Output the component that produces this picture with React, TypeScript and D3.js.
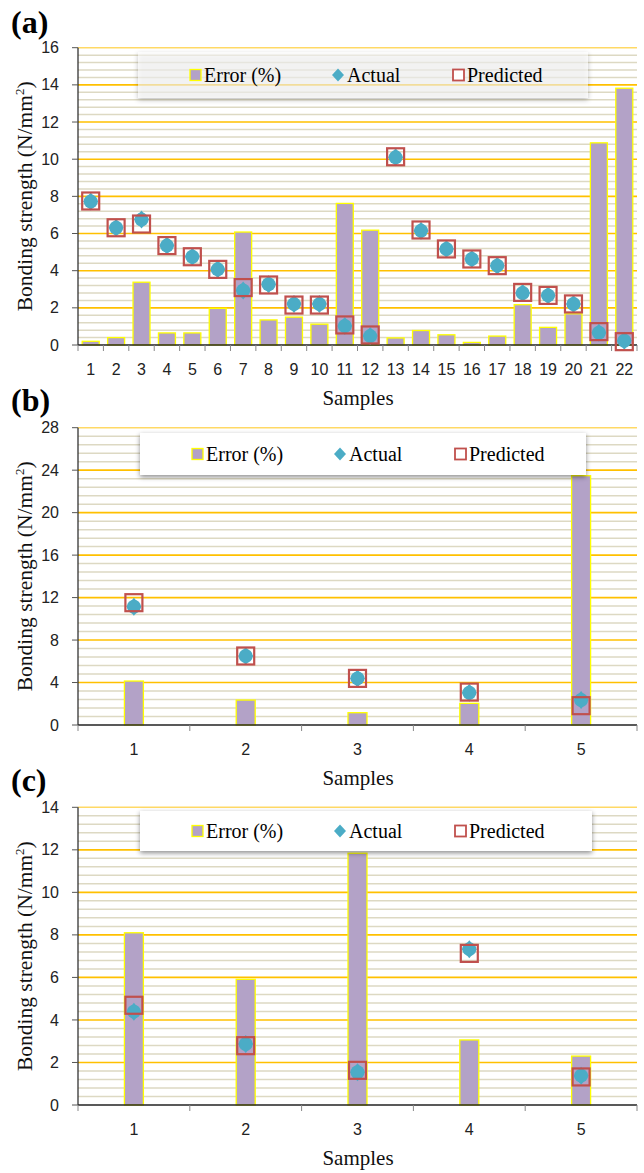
import React from "react";
import * as d3 from "d3";

// ---------- data ----------
const samplesA = ["1","2","3","4","5","6","7","8","9","10","11","12","13","14","15","16","17","18","19","20","21","22"];
const errorA = [0.2, 0.4, 3.38, 0.65, 0.65, 1.97, 6.08, 1.35, 1.5, 1.12, 7.62, 6.18, 0.38, 0.78, 0.55, 0.14, 0.48, 2.17, 0.95, 1.68, 10.88, 13.82];
const actualA = [7.72, 6.31, 6.75, 5.35, 4.75, 4.07, 2.93, 3.27, 2.2, 2.2, 1.02, 0.48, 10.1, 6.15, 5.17, 4.63, 4.27, 2.8, 2.67, 2.21, 0.66, 0.23];
const predictedA = [7.75, 6.31, 6.51, 5.35, 4.75, 4.07, 3.09, 3.23, 2.15, 2.15, 1.08, 0.54, 10.13, 6.19, 5.17, 4.63, 4.27, 2.83, 2.67, 2.21, 0.72, 0.18];
const yTicksA = [0, 2, 4, 6, 8, 10, 12, 14, 16];

const samplesB = ["1", "2", "3", "4", "5"];
const errorB = [4.14, 2.35, 1.16, 2.04, 23.48];
const actualB = [11.14, 6.5, 4.39, 3.04, 2.35];
const predictedB = [11.52, 6.5, 4.39, 3.1, 1.82];
const yTicksB = [0, 4, 8, 12, 16, 20, 24, 28];

const samplesC = ["1", "2", "3", "4", "5"];
const errorC = [8.1, 5.91, 11.84, 3.06, 2.3];
const actualC = [4.39, 2.87, 1.54, 7.33, 1.38];
const predictedC = [4.69, 2.79, 1.63, 7.13, 1.32];
const yTicksC = [0, 2, 4, 6, 8, 10, 12, 14];

const legendLabels = ["Error (%)", "Actual", "Predicted"];

// ---------- style ----------
const BAR_FILL = "#b3a2c7";
const BAR_STROKE = "#ffff00";
const TEAL = "#4bacc6";
const RED = "#c0504d";
const MAJOR = "#ffc000";
const MINOR = "#ddd9c3";
const SERIF = "'Liberation Serif', 'Times New Roman', serif";
const SANS = "'Liberation Sans Narrow', 'Liberation Sans', Arial, sans-serif";

type PanelSpec = {
  id: string;
  label: string;
  labelY: number;
  samples: string[];
  error: number[];
  actual: number[];
  predicted: number[];
  yTicks: number[];
  minorStep: number;
  top: number;
  bottom: number;
  barW: number;
  legend: { x0: number; x1: number; y0: number; y1: number; translucent: boolean };
};

const LEFT = 78;
const RIGHT = 637;

const panels: PanelSpec[] = [
  {
    id: "a", label: "(a)", labelY: 33,
    samples: samplesA, error: errorA, actual: actualA, predicted: predictedA,
    yTicks: yTicksA, minorStep: 0.4, top: 47.7, bottom: 345, barW: 17,
    legend: { x0: 138, x1: 588, y0: 52, y1: 98, translucent: true },
  },
  {
    id: "b", label: "(b)", labelY: 411,
    samples: samplesB, error: errorB, actual: actualB, predicted: predictedB,
    yTicks: yTicksB, minorStep: 0.8, top: 427.7, bottom: 725, barW: 19,
    legend: { x0: 140, x1: 586, y0: 433, y1: 475, translucent: false },
  },
  {
    id: "c", label: "(c)", labelY: 791,
    samples: samplesC, error: errorC, actual: actualC, predicted: predictedC,
    yTicks: yTicksC, minorStep: 0.4, top: 807.3, bottom: 1105, barW: 19,
    legend: { x0: 140, x1: 592, y0: 811, y1: 851, translucent: false },
  },
];

function diamondPath(cx: number, cy: number, hw: number, hh: number) {
  return `M${cx},${cy - hh}L${cx + hw},${cy}L${cx},${cy + hh}L${cx - hw},${cy}Z`;
}

function Panel({ p }: { p: PanelSpec }) {
  const yMax = p.yTicks[p.yTicks.length - 1];
  const x = d3.scaleBand<string>().domain(p.samples).range([LEFT, RIGHT]).padding(0);
  const y = d3.scaleLinear().domain([0, yMax]).range([p.bottom, p.top]);
  const majorStep = p.yTicks[1] - p.yTicks[0];
  const minors = d3
    .range(0, yMax + 1e-9, p.minorStep)
    .filter((v) => Math.abs(v / majorStep - Math.round(v / majorStep)) > 1e-6);
  const bw = x.bandwidth();
  const midY = (p.top + p.bottom) / 2;
  const lg = p.legend;
  const lcy = (lg.y0 + lg.y1) / 2;

  return (
    <g>
      {/* panel label */}
      <text x={11} y={p.labelY} fontFamily={SERIF} fontWeight="bold" fontSize={32} fill="#000">
        {p.label}
      </text>

      {/* minor gridlines */}
      {minors.map((v, i) => (
        <line key={"mn" + i} x1={LEFT} x2={RIGHT} y1={y(v)} y2={y(v)} stroke={MINOR} strokeWidth={1.5} />
      ))}
      {/* major gridlines */}
      {p.yTicks.filter((v) => v > 0).map((v) => (
        <line key={"mj" + v} x1={LEFT} x2={RIGHT} y1={y(v)} y2={y(v)} stroke={MAJOR} strokeWidth={1.6} opacity={v === yMax ? 0.6 : 1} />
      ))}

      {/* bars */}
      {p.error.map((v, i) => {
        const cx = (x(p.samples[i]) as number) + bw / 2;
        return (
          <rect
            key={"bar" + i}
            x={cx - p.barW / 2}
            y={y(v)}
            width={p.barW}
            height={y(0) - y(v)}
            fill={BAR_FILL}
            stroke={BAR_STROKE}
            strokeWidth={1.3}
          />
        );
      })}

      {/* axes */}
      <line x1={LEFT} x2={LEFT} y1={p.top} y2={p.bottom} stroke="#222" strokeWidth={1.2} />
      <line x1={LEFT} x2={RIGHT} y1={p.bottom} y2={p.bottom} stroke="#222" strokeWidth={1.5} />
      {p.yTicks.map((v) => (
        <g key={"yt" + v}>
          <line x1={LEFT - 6} x2={LEFT} y1={y(v)} y2={y(v)} stroke="#555" strokeWidth={1} />
          <text x={59} y={y(v)} dy="0.35em" textAnchor="end" fontFamily={SANS} fontSize={16} fill="#222">
            {v}
          </text>
        </g>
      ))}
      {p.samples.map((s, i) => (
        <line
          key={"xt" + i}
          x1={(x(s) as number)}
          x2={(x(s) as number)}
          y1={p.bottom}
          y2={p.bottom + 6}
          stroke="#888"
          strokeWidth={1}
        />
      ))}
      <line x1={RIGHT} x2={RIGHT} y1={p.bottom} y2={p.bottom + 6} stroke="#888" strokeWidth={1} />
      {p.samples.map((s, i) => (
        <text
          key={"xl" + i}
          x={(x(s) as number) + bw / 2}
          y={p.bottom + 30}
          textAnchor="middle"
          fontFamily={SANS}
          fontSize={16}
          fill="#222"
        >
          {s}
        </text>
      ))}

      {/* axis titles */}
      <text x={358} y={p.bottom + 60} textAnchor="middle" fontFamily={SERIF} fontSize={21} fill="#111">
        Samples
      </text>
      <text
        transform={`translate(32,${midY}) rotate(-90)`}
        textAnchor="middle"
        fontFamily={SERIF}
        fontSize={21.5}
        fill="#111"
      >
        Bonding strength (N/mm<tspan dy={-8} fontSize={13}>2</tspan>
        <tspan dy={8}>)</tspan>
      </text>

      {/* markers */}
      {p.actual.map((v, i) => {
        const cx = (x(p.samples[i]) as number) + bw / 2;
        return (
          <g key={"act" + i}>
            <path d={diamondPath(cx, y(v), 7.5, 9)} fill={TEAL} />
            <circle cx={cx} cy={y(v)} r={7} fill={TEAL} />
          </g>
        );
      })}
      {p.predicted.map((v, i) => {
        const cx = (x(p.samples[i]) as number) + bw / 2;
        return (
          <rect
            key={"pred" + i}
            x={cx - 8.5}
            y={y(v) - 8.5}
            width={17}
            height={17}
            fill="none"
            stroke={RED}
            strokeWidth={2.2}
          />
        );
      })}

      {/* legend */}
      <rect
        x={lg.x0}
        y={lg.y0}
        width={lg.x1 - lg.x0}
        height={lg.y1 - lg.y0}
        fill="#fff"
        fillOpacity={lg.translucent ? 0.55 : 1}
        filter="url(#shadow)"
      />
      <rect x={lg.x0 + 52} y={lcy - 5.5} width={11} height={11} fill={BAR_FILL} stroke={BAR_STROKE} strokeWidth={1.3} />
      <text x={lg.x0 + 66} y={lcy + 7} fontFamily={SERIF} fontSize={20} fill="#000">
        {legendLabels[0]}
      </text>
      <path d={diamondPath(lg.x0 + 200, lcy, 6, 6.5)} fill={TEAL} />
      <text x={lg.x0 + 209} y={lcy + 7} fontFamily={SERIF} fontSize={20} fill="#000">
        {legendLabels[1]}
      </text>
      <rect x={lg.x0 + 315} y={lcy - 5.5} width={11} height={11} fill="#fff" stroke={RED} strokeWidth={1.8} />
      <text x={lg.x0 + 329} y={lcy + 7} fontFamily={SERIF} fontSize={20} fill="#000">
        {legendLabels[2]}
      </text>
    </g>
  );
}

export default function App() {
  return (
    <svg
      width={644}
      height={1173}
      viewBox="0 0 644 1173"
      style={{ position: "absolute", left: 0, top: 0, background: "#fff" }}
    >
      <defs>
        <filter id="shadow" x="-5%" y="-30%" width="110%" height="170%">
          <feDropShadow dx={0} dy={2} stdDeviation={2.5} floodColor="#000" floodOpacity={0.45} />
        </filter>
      </defs>
      <rect x={0} y={0} width={644} height={1173} fill="#fff" />
      {panels.map((p) => (
        <Panel key={p.id} p={p} />
      ))}
    </svg>
  );
}
